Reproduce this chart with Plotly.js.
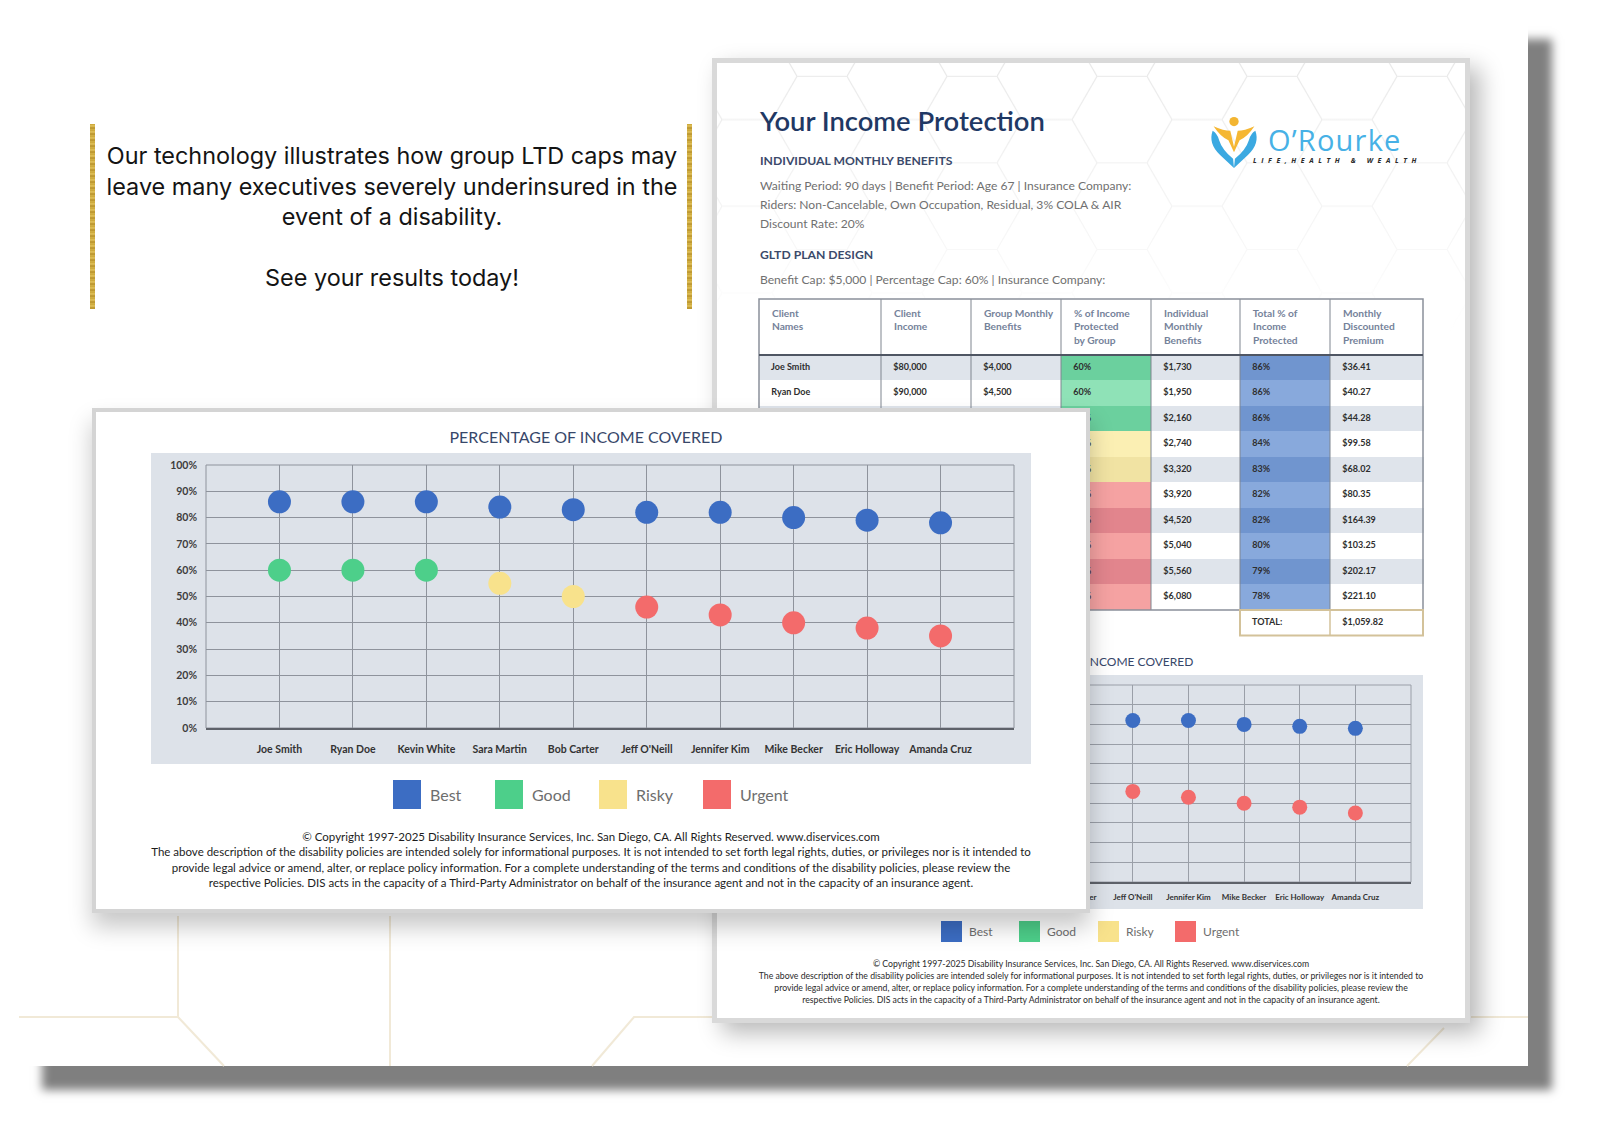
<!DOCTYPE html>
<html>
<head>
<meta charset="utf-8">
<script src="https://cdn.plot.ly/plotly-3.0.1.min.js"></script>
<style>
  html, body { margin:0; padding:0; background:#ffffff; }
  body { width:1600px; height:1126px; position:relative; overflow:hidden; font-family:Lato, "Noto Sans", sans-serif; }
  .abs { position:absolute; }
  #panel { left:18px; top:15px; width:1510px; height:1051px; background:#fff; box-shadow:24px 24px 9px 0 rgba(0,0,0,0.5); z-index:0; }
  #bgLines { left:0; top:0; z-index:1; }
  .goldbar { width:5px; height:185px; top:124px; z-index:2;
     background: repeating-linear-gradient(180deg,#c7a233 0px,#e3c45e 2px,#b68f28 4px,#d9b84d 6px); }
  #blurb { left:93px; width:598px; top:141px; text-align:center; font-family:Inter, "Open Sans", sans-serif; font-size:23.4px; line-height:30.5px; color:#141414; z-index:2; white-space:nowrap; }
  #doc { left:712px; top:58px; width:758px; height:965px; box-sizing:border-box; border:5px solid #d9d9d9; background:#fff; box-shadow:10px 10px 22px rgba(0,0,0,0.28); z-index:3; }
  #docPat { left:717px; top:63px; z-index:4; }
  .dt { position:absolute; white-space:nowrap; z-index:5; }
  #docTitle { left:760px; top:104px; line-height:34px; font-size:27.4px; font-weight:600; color:#1f3864; }
  .dh { left:760px; line-height:16px; font-size:12.2px; font-weight:700; color:#3b4a6b; }
  .dp { left:760px; line-height:19px; font-size:12.1px; color:#707070; }
  #logoTxt { left:1268px; top:126px; line-height:28px; font-family:"Open Sans", sans-serif; font-size:29px; letter-spacing:1.2px; color:#47b1e6; }
  #logoTag { left:1253px; top:156px; line-height:9px; font-family:"Open Sans", sans-serif; font-size:7px; font-style:italic; font-weight:700; letter-spacing:4.6px; color:#2a2a2a; }
  #logoIcon { left:1208px; top:115px; z-index:5; }
  #tableDiv { left:757px; top:297px; width:668px; height:349px; z-index:5; }
  #tableLines { left:757px; top:297px; width:668px; height:349px; z-index:6; }
  #backChart { left:722px; top:640px; width:740px; height:320px; z-index:5; }
  #backFoot { left:717px; width:748px; top:958px; text-align:center; font-size:8.7px; line-height:12px; color:#2b2b2b; white-space:nowrap; z-index:5; }
  #card { left:92px; top:408px; width:998px; height:505px; box-sizing:border-box; border:4px solid #d4d4d4; background:#fff; box-shadow:0 14px 22px rgba(0,0,0,0.22); z-index:10; }
  #frontChart { left:96px; top:414px; width:990px; height:495px; z-index:11; }
  #frontFoot { left:96px; width:990px; top:829px; text-align:center; font-size:11.5px; letter-spacing:0px; line-height:15.3px; color:#1c1c1c; white-space:nowrap; z-index:12; }
</style>
</head>
<body>
<div id="panel" class="abs"></div>
<svg id="bgLines" class="abs" width="1600" height="1126">
  <g stroke="#f1e9d7" stroke-width="2" fill="none">
    <path d="M178,916 L178,1017 L19,1017 M178,1017 L224,1066"/>
    <path d="M390,916 L390,1066"/>
    <path d="M592,1066 L634,1017 L712,1017"/>
    <path d="M1407,1066 L1444,1028 M1471,1017 L1528,1017"/>
  </g>
</svg>

<div class="goldbar abs" style="left:90px"></div>
<div class="goldbar abs" style="left:687px"></div>
<div id="blurb" class="abs">Our technology illustrates how group LTD caps may<br>leave many executives severely underinsured in the<br>event of a disability.<br><br>See your results today!</div>

<div id="doc" class="abs"></div>
<svg id="docPat" class="abs" width="748" height="270">
  <defs>
    <pattern id="hex" width="150" height="86.6" patternUnits="userSpaceOnUse" x="-20" y="-30">
      <path d="M0,43.3 L25,0 L75,0 L100,43.3 L75,86.6 L25,86.6 Z M100,43.3 L150,43.3" fill="none" stroke="#e8e8e8" stroke-width="1.2"/>
    </pattern>
    <linearGradient id="fade" x1="0" y1="0" x2="0" y2="1">
      <stop offset="0" stop-color="#fff" stop-opacity="1"/>
      <stop offset="1" stop-color="#fff" stop-opacity="0"/>
    </linearGradient>
    <mask id="fadeMask"><rect width="748" height="270" fill="url(#fade)"/></mask>
  </defs>
  <rect width="748" height="270" fill="url(#hex)" mask="url(#fadeMask)"/>
</svg>
<div id="docTitle" class="dt">Your Income Protection</div>
<div class="dt dh" style="top:153px">INDIVIDUAL MONTHLY BENEFITS</div>
<div class="dt dp" style="top:175.5px">Waiting Period: 90 days | Benefit Period: Age 67 | Insurance Company:<br>Riders: Non-Cancelable, Own Occupation, Residual, 3% COLA &amp; AIR<br>Discount Rate: 20%</div>
<div class="dt dh" style="top:247px">GLTD PLAN DESIGN</div>
<div class="dt dp" style="top:269.5px">Benefit Cap: $5,000 | Percentage Cap: 60% | Insurance Company:</div>

<svg id="logoIcon" class="abs" width="52" height="54" viewBox="0 0 56 58">
  <circle cx="28" cy="7" r="5" fill="#f3b531"/>
  <path d="M6,12 Q17,17 24,17 L28,34 L32,17 Q39,17 50,12 Q42,24 34,27 L28,40 L22,27 Q14,24 6,12 Z" fill="#f5b733"/>
  <path d="M5,17 Q0,31 13,43 L28,57 L27,47 Q15,37 12,27 Q10,20 5,17 Z" fill="#3ba9e1"/>
  <path d="M51,17 Q56,31 43,43 L28,57 L29,47 Q41,37 44,27 Q46,20 51,17 Z" fill="#3ba9e1"/>
</svg>
<div id="logoTxt" class="dt">O’Rourke</div>
<div id="logoTag" class="dt">LIFE,HEALTH &amp; WEALTH</div>

<div id="tableDiv" class="abs"></div>
<div id="tableLines" class="abs"></div>
<div id="backChart" class="abs"></div>
<div id="backFoot" class="abs">© Copyright 1997-2025 Disability Insurance Services, Inc. San Diego, CA. All Rights Reserved. www.diservices.com<br>The above description of the disability policies are intended solely for informational purposes. It is not intended to set forth legal rights, duties, or privileges nor is it intended to<br>provide legal advice or amend, alter, or replace policy information. For a complete understanding of the terms and conditions of the disability policies, please review the<br>respective Policies. DIS acts in the capacity of a Third-Party Administrator on behalf of the insurance agent and not in the capacity of an insurance agent.</div>

<div id="card" class="abs"></div>
<div id="frontChart" class="abs"></div>
<div id="frontFoot" class="abs">© Copyright 1997-2025 Disability Insurance Services, Inc. San Diego, CA. All Rights Reserved. www.diservices.com<br>The above description of the disability policies are intended solely for informational purposes. It is not intended to set forth legal rights, duties, or privileges nor is it intended to<br>provide legal advice or amend, alter, or replace policy information. For a complete understanding of the terms and conditions of the disability policies, please review the<br>respective Policies. DIS acts in the capacity of a Third-Party Administrator on behalf of the insurance agent and not in the capacity of an insurance agent.</div>

<script>
// ---------------- DATA ----------------
const clientNames = ['Joe Smith', 'Ryan Doe', 'Kevin White', 'Sara Martin', 'Bob Carter', "Jeff O'Neill", 'Jennifer Kim', 'Mike Becker', 'Eric Holloway', 'Amanda Cruz'];
const clientIncome = [80000, 90000, 100000, 110000, 120000, 130000, 140000, 150000, 160000, 170000];
const groupMonthlyBenefit = [4000, 4500, 5000, 5000, 5000, 5000, 5000, 5000, 5000, 5000];
const groupPctProtected = [60, 60, 60, 55, 50, 46, 43, 40, 38, 35];
const individualMonthlyBenefit = [1730, 1950, 2160, 2740, 3320, 3920, 4520, 5040, 5560, 6080];
const totalPctProtected = [86, 86, 86, 84, 83, 82, 82, 80, 79, 78];
const monthlyPremium = [36.41, 40.27, 44.28, 99.58, 68.02, 80.35, 164.39, 103.25, 202.17, 221.10];
const premiumTotal = 1059.82;
const groupStatus = ['Good', 'Good', 'Good', 'Risky', 'Risky', 'Urgent', 'Urgent', 'Urgent', 'Urgent', 'Urgent'];
const legendLabels = ['Best', 'Good', 'Risky', 'Urgent'];
const yTickValues = [0, 10, 20, 30, 40, 50, 60, 70, 80, 90, 100];
const tableHeaders = ['Client<br>Names', 'Client<br>Income', 'Group Monthly<br>Benefits', '% of Income<br>Protected<br>by Group', 'Individual<br>Monthly<br>Benefits', 'Total % of<br>Income<br>Protected', 'Monthly<br>Discounted<br>Premium'];
const totalLabel = 'TOTAL:';
const chartTitle = 'PERCENTAGE OF INCOME COVERED';

// ---------------- STYLE ----------------
const FONT = 'Lato, "Noto Sans", sans-serif';
const COLORS = { Best: '#3c6dc3', Good: '#4dcf8a', Risky: '#f8e28c', Urgent: '#f36b6b' };
const STATUS_FILL = { Good: ['#6bd09e', '#8fe2b7'], Risky: ['#f1e3a3', '#fbefb3'], Urgent: ['#e2858d', '#f5a2a2'] };
const BLUE_FILL = ['#7095cf', '#88a9dc'];
const STRIPE = ['#dfe4eb', '#ffffff'];
const CFG = { staticPlot: true, displayModeBar: false };
const PAD = '\u00a0\u00a0';

function buildChart(divId, o) {
  const px = x => (x - o.l) / o.pw;
  const py = y => (o.t + o.ph - y) / o.ph;
  const shapes = [
    { type: 'rect', xref: 'paper', yref: 'paper', x0: px(o.panel[0]), x1: px(o.panel[2]), y0: py(o.panel[3]), y1: py(o.panel[1]),
      fillcolor: '#dde2e9', line: { width: 0 }, layer: 'below' },
    { type: 'rect', xref: 'paper', yref: 'paper', x0: 0, x1: 1, y0: 0, y1: 1, line: { color: o.grid, width: 1 }, layer: 'below' }
  ];
  const annotations = [];
  legendLabels.forEach((lab, i) => {
    const x0 = o.legX[i];
    shapes.push({ type: 'rect', xref: 'paper', yref: 'paper', x0: px(x0), x1: px(x0 + o.legW), y0: py(o.legY[1]), y1: py(o.legY[0]),
      fillcolor: COLORS[lab], line: { width: 0 } });
    annotations.push({ xref: 'paper', yref: 'paper', x: px(x0 + o.legW + o.legGap), y: py((o.legY[0] + o.legY[1]) / 2),
      xanchor: 'left', yanchor: 'middle', showarrow: false, text: lab, font: { family: FONT, size: o.legFont, color: '#6e6e6e' } });
  });
  const traces = [
    { type: 'scatter', mode: 'markers', name: 'Total % of Income Protected', x: clientNames, y: totalPctProtected,
      marker: { size: o.ms, color: COLORS.Best, line: { width: 0 } }, hoverinfo: 'skip', cliponaxis: false },
    { type: 'scatter', mode: 'markers', name: '% of Income Protected by Group', x: clientNames, y: groupPctProtected,
      marker: { size: o.ms, color: groupStatus.map(s => COLORS[s]), line: { width: 0 } }, hoverinfo: 'skip', cliponaxis: false }
  ];
  const layout = {
    width: o.w, height: o.h,
    margin: { l: o.l, r: o.w - o.l - o.pw, t: o.t, b: o.h - o.t - o.ph, pad: 0 },
    paper_bgcolor: 'rgba(0,0,0,0)', plot_bgcolor: 'rgba(0,0,0,0)', showlegend: false,
    title: { text: chartTitle, font: { family: FONT, size: o.titleSize, color: '#37476a' },
      xref: 'container', yref: 'container', x: o.titleX / o.w, y: 1 - o.titleY / o.h, xanchor: 'center', yanchor: 'middle' },
    xaxis: { type: 'category', categoryorder: 'array', categoryarray: clientNames, range: [-1, 10],
      showgrid: true, gridcolor: o.grid, gridwidth: 1, showline: true, linecolor: '#5e626a', linewidth: o.axisW,
      ticks: '', tickfont: { family: FONT, size: o.xFont, color: '#333333', weight: 'bold' }, ticklabelstandoff: o.xStand, zeroline: false },
    yaxis: { range: [0, 100], tickvals: yTickValues, ticktext: yTickValues.map(v => v + '%'), showticklabels: o.yLabels,
      showgrid: true, gridcolor: o.grid, gridwidth: 1, zeroline: false, showline: false, ticks: '',
      tickfont: { family: FONT, size: o.yFont, color: '#3d3d3d', weight: 'bold' }, ticklabelstandoff: o.yStand },
    shapes: shapes, annotations: annotations
  };
  Plotly.newPlot(divId, traces, layout, CFG);
}

// Front (main) chart
buildChart('frontChart', {
  w: 990, h: 495, l: 110, t: 51, pw: 808, ph: 263,
  panel: [55, 39, 935, 350], grid: '#8e939c', axisW: 2,
  ms: 23, xFont: 10.5, yFont: 10.5, xStand: 10, yStand: 8, yLabels: true,
  titleSize: 16, titleX: 490, titleY: 23,
  legX: [297, 399, 503, 607], legY: [366, 395], legW: 28, legGap: 7, legFont: 16
});

// Back (document) chart — its left part lies under the front card
buildChart('backChart', {
  w: 740, h: 320, l: 77, t: 45, pw: 612, ph: 197,
  panel: [35, 35, 701, 269], grid: '#9a9fa8', axisW: 1.5,
  ms: 15, xFont: 8, yFont: 8, xStand: 7, yStand: 6, yLabels: false,
  titleSize: 12, titleX: 369, titleY: 22,
  legX: [219, 297, 376, 453], legY: [281, 302], legW: 21, legGap: 5, legFont: 12
});

// Table
(function () {
  const n = clientNames.length;
  const money0 = v => '$' + v.toLocaleString('en-US');
  const money2 = v => '$' + v.toLocaleString('en-US', { minimumFractionDigits: 2, maximumFractionDigits: 2 });
  const cols = [
    clientNames.concat(['']),
    clientIncome.map(money0).concat(['']),
    groupMonthlyBenefit.map(money0).concat(['']),
    groupPctProtected.map(v => v + '%').concat(['']),
    individualMonthlyBenefit.map(money0).concat(['']),
    totalPctProtected.map(v => v + '%').concat([totalLabel]),
    monthlyPremium.map(money2).concat([money2(premiumTotal)])
  ].map(col => col.map(s => s ? PAD + s : s));
  const fills = cols.map((col, c) => col.map((_, r) => {
    if (r >= n) return '#ffffff';
    if (c === 3) return STATUS_FILL[groupStatus[r]][r % 2];
    if (c === 5) return BLUE_FILL[r % 2];
    return STRIPE[r % 2];
  }));
  const colW = [122, 90, 90, 90, 89, 90, 93];
  const headH = 56, rowH = 25.5;
  const headers = tableHeaders.map(h => h.split('<br>').map(s => PAD + s).join('<br>'));
  Plotly.newPlot('tableDiv', [{
    type: 'table', columnwidth: colW, domain: { x: [0, 1], y: [0, 1] },
    header: { values: headers, align: 'left', height: headH, fill: { color: '#ffffff' }, line: { color: '#ffffff', width: 1 },
      font: { family: FONT, size: 10.2, color: '#75829a', weight: 'bold' } },
    cells: { values: cols, align: 'left', height: rowH, fill: { color: fills }, line: { color: fills, width: 1 },
      font: { family: FONT, size: 9, color: '#2e2e2e', weight: 'bold' } }
  }], { width: 668, height: 349, margin: { l: 2, r: 2, t: 2, b: 2 }, paper_bgcolor: 'rgba(0,0,0,0)' }, CFG);

  // table rules drawn on a transparent overlay
  const totalW = colW.reduce((a, b) => a + b, 0);
  const cum = [0]; colW.forEach(w => cum.push(cum[cum.length - 1] + w));
  const H = 345;
  const fx = v => v / totalW;
  const fy = v => 1 - v / H;
  const bodyBottom = headH + n * rowH;
  const sh = [];
  for (let i = 1; i < colW.length; i++) {
    sh.push({ type: 'line', xref: 'paper', yref: 'paper', x0: fx(cum[i]), x1: fx(cum[i]), y0: fy(0), y1: fy(bodyBottom), line: { color: '#7f858f', width: 1 } });
  }
  sh.push({ type: 'rect', xref: 'paper', yref: 'paper', x0: 0, x1: 1, y0: fy(bodyBottom), y1: 1, line: { color: '#8a909b', width: 1.5 } });
  sh.push({ type: 'line', xref: 'paper', yref: 'paper', x0: 0, x1: 1, y0: fy(headH), y1: fy(headH), line: { color: '#4f5663', width: 2 } });
  sh.push({ type: 'rect', xref: 'paper', yref: 'paper', x0: fx(cum[5]), x1: 1, y0: fy(bodyBottom + rowH), y1: fy(bodyBottom), line: { color: '#d3c29a', width: 2 } });
  sh.push({ type: 'line', xref: 'paper', yref: 'paper', x0: fx(cum[6]), x1: fx(cum[6]), y0: fy(bodyBottom + rowH), y1: fy(bodyBottom), line: { color: '#d3c29a', width: 1.5 } });
  Plotly.newPlot('tableLines', [], {
    width: 668, height: 349, margin: { l: 2, r: 2, t: 2, b: 2 },
    paper_bgcolor: 'rgba(0,0,0,0)', plot_bgcolor: 'rgba(0,0,0,0)',
    xaxis: { visible: false, range: [0, 1] }, yaxis: { visible: false, range: [0, 1] }, shapes: sh
  }, CFG);
})();
</script>
</body>
</html>
